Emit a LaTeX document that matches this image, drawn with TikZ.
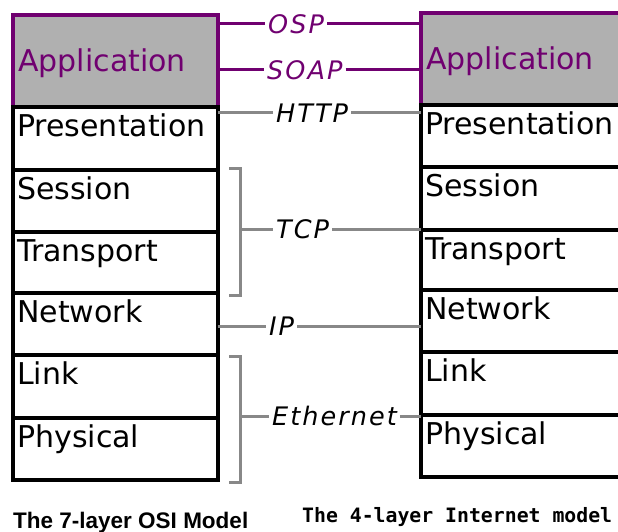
\documentclass[tikz,border=0pt]{standalone}
\usepackage{fontspec}
\setmainfont{DejaVu Sans}
\newfontfamily\boxfont{DejaVu Sans}
\newfontfamily\protofont[LetterSpace=8]{DejaVu Sans}
\newfontfamily\capfont{Liberation Sans}
\newfontfamily\capmono{DejaVu Sans Mono}
\definecolor{appPurple}{RGB}{112,0,112}
\definecolor{appGray}{RGB}{176,176,176}
\definecolor{linkGray}{RGB}{136,136,136}
\begin{document}
\begin{tikzpicture}[x=1pt,y=-1pt,
  layer/.style={draw=black, line width=3.5pt, anchor=north west, inner sep=0pt, outer sep=0pt, fill=white},
  leftcol/.style={layer, minimum width=205pt},
  rightcol/.style={layer, minimum width=220pt},
  appbox/.style={draw=appPurple, fill=appGray},
  ltext/.style={anchor=north west, inner sep=0pt, text height=22pt, text depth=0pt, xshift=4pt, yshift=-7pt,
    font=\boxfont\fontsize{30}{30}\selectfont},
  atext/.style={anchor=west, inner sep=0pt, text height=22pt, text depth=0pt, xshift=5pt,
    font=\boxfont\fontsize{30}{30}\selectfont, text=appPurple},
  proto/.style={anchor=west, inner xsep=3pt, inner ysep=0pt,
    font=\protofont\itshape\fontsize{25.5}{25.5}\selectfont},
  plink/.style={draw=appPurple, line width=3pt},
  glink/.style={draw=linkGray, line width=3pt},
  caption/.style={anchor=base west, inner sep=0pt}
]
\useasboundingbox (0,0) rectangle (618,532);
\clip (0,0) rectangle (618,532);
\fill[white] (0,0) rectangle (618,532);

% OSI stack
\node[leftcol, appbox, minimum height=92pt, label={[atext]west:Application}] (lApp) at (13,15) {};
\node[leftcol, minimum height=63pt, label={[ltext]north west:Presentation}] (lPres) at (13,107) {};
\node[leftcol, minimum height=62pt, label={[ltext]north west:Session}] (lSess) at (13,170) {};
\node[leftcol, minimum height=61pt, label={[ltext]north west:Transport}] (lTrans) at (13,232) {};
\node[leftcol, minimum height=62pt, label={[ltext]north west:Network}] (lNet) at (13,293) {};
\node[leftcol, minimum height=63pt, label={[ltext]north west:Link}] (lLink) at (13,355) {};
\node[leftcol, minimum height=62pt, label={[ltext]north west:Physical}] (lPhys) at (13,418) {};

% Internet stack
\node[rightcol, appbox, minimum height=92pt, label={[atext]west:Application}] (rApp) at (421,13) {};
\node[rightcol, minimum height=62pt, label={[ltext]north west:Presentation}] (rPres) at (421,105) {};
\node[rightcol, minimum height=63pt, label={[ltext]north west:Session}] (rSess) at (421,167) {};
\node[rightcol, minimum height=60pt, label={[ltext]north west:Transport}] (rTrans) at (421,230) {};
\node[rightcol, minimum height=62pt, label={[ltext]north west:Network}] (rNet) at (421,290) {};
\node[rightcol, minimum height=63pt, label={[ltext]north west:Link}] (rLink) at (421,352) {};
\node[rightcol, minimum height=62pt, label={[ltext]north west:Physical}] (rPhys) at (421,415) {};

% protocol labels
\node[proto, text=appPurple] (osp) at (265,24) {OSP};
\node[proto, text=appPurple] (soap) at (264,70) {SOAP};
\node[proto] (http) at (273,113) {HTTP};
\node[proto] (tcp) at (273,229) {TCP};
\node[proto] (ip) at (266,326) {IP};
\node[proto] (eth) at (269,416) {Ethernet};

% brackets grouping layers
\coordinate (tcpTop) at (240,168);
\coordinate (tcpBot) at (240,295);
\coordinate (ethTop) at (240,356);
\coordinate (ethBot) at (240,482);
\draw[glink] ([xshift=-11pt]tcpTop) -- (tcpTop) -- (tcpBot) -- ([xshift=-11pt]tcpBot);
\draw[glink] ([xshift=-11pt]ethTop) -- (ethTop) -- (ethBot) -- ([xshift=-11pt]ethBot);

% connectors
\draw[plink] (lApp.east |- osp) -- (osp.west);
\draw[plink] (osp.east) -- (osp.east -| rApp.west);
\draw[plink] (lApp.east |- soap) -- (soap.west);
\draw[plink] (soap.east) -- (soap.east -| rApp.west);
\draw[glink] (lPres.east |- http) -- (http.west);
\draw[glink] (http.east) -- (http.east -| rPres.west);
\draw[glink] (tcpTop |- tcp) -- (tcp.west);
\draw[glink] (tcp.east) -- (tcp.east -| rSess.west);
\draw[glink] (lNet.east |- ip) -- (ip.west);
\draw[glink] (ip.east) -- (ip.east -| rNet.west);
\draw[glink] (ethTop |- eth) -- (eth.west);
\draw[glink] (eth.east) -- (eth.east -| rLink.west);

% captions
\node[caption, font=\capfont\bfseries\fontsize{22.5}{22.5}\selectfont] (capOSI) at (13,528) {The 7-layer OSI Model};
\node[caption, font=\capmono\bfseries\fontsize{19.8}{19.8}\selectfont] (capNet) at (302,522) {The 4-layer Internet model};
\end{tikzpicture}
\end{document}
